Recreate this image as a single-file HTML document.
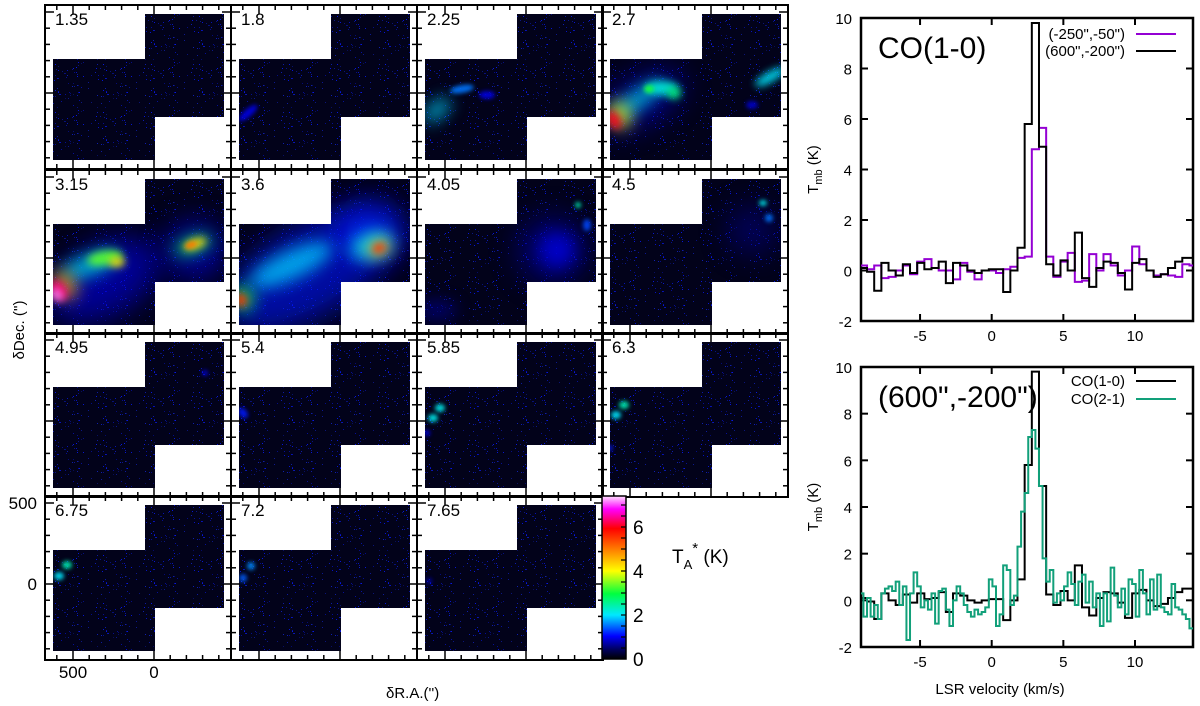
<!DOCTYPE html>
<html><head><meta charset="utf-8"><style>
html,body{margin:0;padding:0;background:#fff;}
svg{display:block;font-family:"Liberation Sans",Arial,sans-serif;}
</style></head><body>
<svg id="fig" width="1200" height="706" viewBox="0 0 1200 706" xmlns="http://www.w3.org/2000/svg">
<defs>
<clipPath id="mapclip" clipPathUnits="userSpaceOnUse">
<rect x="8" y="54" width="102" height="101"/><rect x="100" y="9" width="79" height="103"/>
</clipPath>
<clipPath id="clipTop"><rect x="861" y="18" width="332" height="303"/></clipPath>
<clipPath id="clipBot"><rect x="861" y="367" width="332" height="280"/></clipPath>
<filter id="blur2" x="-100%" y="-100%" width="300%" height="300%"><feGaussianBlur stdDeviation="2"/></filter>
<filter id="blur4" x="-100%" y="-100%" width="300%" height="300%"><feGaussianBlur stdDeviation="4"/></filter>
<filter id="blur8" x="-100%" y="-100%" width="300%" height="300%"><feGaussianBlur stdDeviation="8"/></filter>
<filter id="blur14" x="-100%" y="-100%" width="300%" height="300%"><feGaussianBlur stdDeviation="14"/></filter>
<linearGradient id="cbar" x1="0" y1="1" x2="0" y2="0">
<stop offset="0" stop-color="#000000"/><stop offset="0.06" stop-color="#000060"/>
<stop offset="0.14" stop-color="#0000ff"/><stop offset="0.27" stop-color="#00e8ff"/>
<stop offset="0.40" stop-color="#00ff40"/><stop offset="0.54" stop-color="#ffff00"/>
<stop offset="0.67" stop-color="#ff8000"/><stop offset="0.80" stop-color="#ff0000"/>
<stop offset="0.92" stop-color="#ff00ff"/><stop offset="1" stop-color="#ffe0ff"/>
</linearGradient>
<pattern id="noise" patternUnits="userSpaceOnUse" width="48" height="48"></pattern>
</defs>
<g id="maps"></g>
<g id="colorbar">
<rect x="602" y="496" width="24" height="163" fill="url(#cbar)" stroke="#000" stroke-width="1.5"/>
</g>
<g id="spec"></g>
</svg>
<script>
// ---------- Channel map data ----------
const channels = ["1.35","1.8","2.25","2.7","3.15","3.6","4.05","4.5","4.95","5.4","5.85","6.3","6.75","7.2","7.65"];
// emission features per channel: [x, y, rx, ry, rotationDeg, T_A* (K)] in panel-local pixels
const blobs = [
  [],
  [[17,108,12,4,-40,1.0]],
  [[20,105,16,8,-40,2.0],[45,84,12,4,-10,1.6],[70,90,8,4,0,1.0]],
  [[40,95,45,22,-30,0.9],[35,95,30,8,-35,2.2],[60,83,16,7,0,2.3],[72,88,7,6,0,2.8],[47,84,5,4,0,3.2],[18,110,10,14,-30,4.2],[12,115,6,10,-30,6.3],[168,72,17,5,-30,2.1],[150,100,6,4,0,0.9]],
  [[60,110,60,35,-30,1.0],[150,80,30,30,0,1.0],[45,95,30,10,-20,2.2],[60,88,18,7,-10,3.5],[72,92,8,5,0,4.4],[20,115,10,16,-35,4.8],[14,120,7,11,-35,6.6],[12,125,5,7,-35,7.5],[148,75,20,8,-20,3.0],[150,74,12,5,-20,4.5],[146,75,6,3,-20,5.3]],
  [[80,100,95,45,-30,1.2],[60,95,45,14,-25,2.0],[140,60,35,30,0,1.2],[140,75,22,14,-20,2.2],[148,78,13,8,-20,4.4],[148,78,7,5,-20,5.8],[12,128,11,13,-30,3.2],[10,130,6,7,-30,5.8]],
  [[135,80,35,35,0,0.7],[140,80,18,18,0,1.0],[20,140,20,10,0,0.6],[161,35,3,3,0,2.5],[170,55,4,6,0,1.4]],
  [[150,60,25,25,0,0.6],[161,33,4,3,0,2.2],[167,48,4,4,0,1.6]],
  [[160,40,3,3,0,1.0]],
  [[12,80,4,6,-40,1.2]],
  [[16,85,5,4,0,2.2],[23,75,5,4,0,2.2],[10,100,3,3,0,1.1]],
  [[22,72,5,4,0,2.5],[14,82,5,4,0,2.1],[8,115,3,3,0,1.2]],
  [[22,69,5,4,0,2.5],[14,80,5,4,0,2.1]],
  [[20,70,4,4,0,1.7],[12,82,4,4,0,1.5]],
  [[12,85,3,3,0,0.8]]
];
const raTicks = [-400,-300,-200,-100,0,100,200,300,400,500,600];
const decTicks = [-500,-400,-300,-200,-100,0,100,200,300,400,500];
const cbTicks = [0,2,4,6];

// ---------- Spectra data ----------
const binStart = -9.2;
const wide = 0.5, narrow = 0.25;
const co10_pos1 = [0.1,-0.05,-0.8,0.3,0.0,-0.2,0.25,-0.1,0.3,0.05,0.1,0.35,-0.5,0.3,0.2,0.0,-0.1,0.0,0.05,0.05,-0.85,0.0,0.9,5.8,9.8,4.9,0.25,-0.2,0.4,0.0,1.5,-0.3,-0.65,0.1,0.35,0.3,-0.1,-0.75,0.3,0.45,0.0,-0.25,-0.15,0.1,0.35,0.5,0.5];
const co10_pos2 = [0.2,0.05,0.2,-0.3,-0.25,0.0,0.2,-0.15,0.35,0.45,0.1,0.0,0.0,-0.35,0.3,-0.05,-0.35,0.0,0.0,-0.1,0.05,0.15,0.5,0.55,4.8,5.65,0.55,-0.25,0.35,0.7,-0.45,-0.4,0.65,0.0,0.65,0.2,-0.2,0.0,0.95,0.25,0.0,-0.2,-0.15,-0.2,-0.25,0.25,0.2];
const co21_pos1 = [0.3,-0.7,0.1,-0.7,-0.2,-0.8,0.3,0.5,0.6,0.4,0.8,-0.2,0.6,-1.7,0.3,1.2,0.6,-0.3,0.0,-0.4,0.3,-1.0,0.4,0.5,-0.4,-1.1,0.0,0.6,0.3,-0.2,-0.5,-0.7,-0.4,-0.6,-0.5,-0.3,0.9,0.6,-1.1,-0.6,1.5,1.3,-0.2,0.2,2.3,3.8,4.6,7.0,7.3,6.5,4.9,1.8,0.8,1.3,-0.1,0.3,0.0,0.6,1.2,0.7,-0.2,0.8,1.1,-0.1,0.8,-0.3,0.3,-1.1,0.3,-0.9,1.4,0.2,-0.3,0.5,-0.6,0.9,0.7,-0.7,1.3,0.3,-0.6,0.9,-0.4,1.1,-0.3,-0.5,-0.6,0.7,-0.3,-0.4,-0.6,-0.8,-1.2,-1.2];
const xTicks = [-5,0,5,10];
const yTicks = [-2,0,2,4,6,8,10];

const NS = "http://www.w3.org/2000/svg";
function mk(tag, attrs, parent){const e=document.createElementNS(NS,tag);for(const k in attrs)e.setAttribute(k,attrs[k]);parent.appendChild(e);return e;}

// colormap
const cmStops=[[0,[0,0,0]],[0.5,[0,0,100]],[1.1,[0,0,255]],[2.1,[0,232,255]],[3.1,[0,255,64]],[4.2,[255,255,0]],[5.2,[255,128,0]],[6.2,[255,0,0]],[7.1,[255,0,255]],[7.8,[255,224,255]]];
function cmap(t){
  if(t<=cmStops[0][0])return "rgb(0,0,0)";
  for(let i=1;i<cmStops.length;i++){if(t<=cmStops[i][0]){const a=cmStops[i-1],b=cmStops[i];const f=(t-a[0])/(b[0]-a[0]);const c=a[1].map((v,j)=>Math.round(v+(b[1][j]-v)*f));return `rgb(${c[0]},${c[1]},${c[2]})`;}}
  return "rgb(255,224,255)";
}

// noise pattern (texture only)
const pat=document.getElementById('noise');
mk('rect',{x:0,y:0,width:48,height:48,fill:'#02021a'},pat);
let seed=12345;function rnd(){seed=(seed*1103515245+12345)%2147483648;return seed/2147483648;}
for(let i=0;i<70;i++){mk('rect',{x:Math.floor(rnd()*48),y:Math.floor(rnd()*48),width:1,height:1,fill:rnd()<0.5?'#1020b0':'#0818e0',opacity:(0.4+rnd()*0.6).toFixed(2)},pat);}

// ---------- maps ----------
const maps=document.getElementById('maps');
const PW=186, PH=164, colX=[45,231,417,602], rowY=[5,170,333,496];
const raX = ra => 109 - ra*(81/500);   // panel-local
const decY = d => 88 - d*(81/500);
channels.forEach((ch,i)=>{
  const c=i%4, r=Math.floor(i/4);
  const g=mk('g',{transform:`translate(${colX[c]},${rowY[r]})`},maps);
  
  
  const inner=mk('g',{'clip-path':'url(#mapclip)'},g);
  mk('rect',{x:0,y:0,width:PW,height:PH,fill:'url(#noise)'},inner);
  const sorted=blobs[i].slice().sort((a,b)=>a[5]-b[5]);
  sorted.forEach(b=>{
    const m=Math.min(b[2],b[3]);
    const f = m>=20?'blur14':(m>=8?'blur8':(m>=5?'blur4':'blur2'));
    const op = m>=20?0.6:(m>=8?0.75:0.9);
    const e=mk('ellipse',{cx:b[0],cy:b[1],rx:b[2],ry:b[3],transform:`rotate(${b[4]} ${b[0]} ${b[1]})`,fill:cmap(b[5]),filter:`url(#${f})`,opacity:op},inner);
    
    
  });
  mk('rect',{x:0,y:0,width:PW,height:PH,fill:'none',stroke:'#000','stroke-width':2},g);
  raTicks.forEach(t=>{const x=raX(t);if(x<2||x>PW-2)return;const L=(t===0||t===500)?9:5;
    mk('line',{x1:x,y1:PH,x2:x,y2:PH-L,stroke:'#000','stroke-width':1.5},g);
    mk('line',{x1:x,y1:0,x2:x,y2:L,stroke:'#000','stroke-width':1.5},g);});
  decTicks.forEach(t=>{const y=decY(t);if(y<2||y>PH-2)return;const L=(t===0||t===500)?9:5;
    mk('line',{x1:0,y1:y,x2:L,y2:y,stroke:'#000','stroke-width':1.5},g);
    mk('line',{x1:PW,y1:y,x2:PW-L,y2:y,stroke:'#000','stroke-width':1.5},g);});
  const lab=mk('text',{x:10,y:20,'font-size':17,fill:'#000'},g);lab.textContent=ch;
  
  
});
// map axis labels
function txt(parent,x,y,s,attrs,name){const t=mk('text',Object.assign({x:x,y:y,fill:'#000'},attrs||{}),parent);t.textContent=s;return t;}
[[500],[0]].forEach(a=>{
  txt(maps,37,rowY[3]+decY(a[0])+6,String(a[0]),{'font-size':17,'text-anchor':'end'},'dec-tick-label');
  txt(maps,colX[0]+raX(a[0]),678,String(a[0]),{'font-size':17,'text-anchor':'middle'},'ra-tick-label');
});
txt(maps,386,698,"\u03B4R.A.('')",{'font-size':15},'x-axis-title');
txt(maps,0,0,"\u03B4Dec. ('')",{'font-size':15,'text-anchor':'middle',transform:'translate(24,330) rotate(-90)'},'y-axis-title');

// colorbar ticks
const cb=document.getElementById('colorbar');
const cbY=t=>659-t*22;
for(let t=0.5;t<7.4;t+=0.5){mk('line',{x1:626,y1:cbY(t),x2:621,y2:cbY(t),stroke:'#000','stroke-width':1.2},cb);}
cbTicks.forEach(t=>{txt(cb,633,cbY(t)+7,String(t),{'font-size':19},'colorbar-tick-label');});
const cbt=txt(cb,672,563,'',{'font-size':19},'colorbar-title');
cbt.innerHTML='T<tspan font-size="13" dy="6">A</tspan><tspan font-size="15" dy="-16">*</tspan><tspan dy="10"> (K)</tspan>';

// ---------- spectra ----------
const spec=document.getElementById('spec');
const sx=v=>991.7+v*14.33;
function makeAxes(top,bot,clip,name,label){
  const g=mk('g',{},spec);
  const sy=t=>bot-(t+2)*((bot-top)/12);
  mk('rect',{x:861,y:top,width:332,height:bot-top,fill:'none',stroke:'#000','stroke-width':2.5},g);
  xTicks.forEach(v=>{const x=sx(v);mk('line',{x1:x,y1:bot,x2:x,y2:bot-7,stroke:'#000','stroke-width':2},g);mk('line',{x1:x,y1:top,x2:x,y2:top+7,stroke:'#000','stroke-width':2},g);
    txt(g,x,bot+20,String(v),{'font-size':15,'text-anchor':'middle'},'x-tick-label');});
  yTicks.forEach(t=>{const y=sy(t);mk('line',{x1:861,y1:y,x2:868,y2:y,stroke:'#000','stroke-width':2},g);mk('line',{x1:1193,y1:y,x2:1186,y2:y,stroke:'#000','stroke-width':2},g);
    txt(g,852,y+6,String(t),{'font-size':15,'text-anchor':'end'},'y-tick-label');});
  const yl=txt(g,0,0,'',{'font-size':15,'text-anchor':'middle',transform:`translate(818,${(top+bot)/2}) rotate(-90)`},'y-axis-title');
  yl.innerHTML='T<tspan font-size="11" dy="4">mb</tspan><tspan dy="-4"> (K)</tspan>';
  txt(g,878,top+40,label,{'font-size':30},'panel-title');
  return {g,sy};
}
function stepLine(ax,vals,w,color,clip,name){
  let d='';
  vals.forEach((v,i)=>{const x0=sx(binStart+i*w),x1=sx(binStart+(i+1)*w),y=ax.sy(v);d+=(i===0?`M${x0},${y}`:`V${y}`)+`H${x1}`;});
  const p=mk('path',{d:d,fill:'none',stroke:color,'stroke-width':2,'clip-path':clip},ax.g);
  
  
}
function legend(ax,y,label,color,name){
  const l=mk('g',{},ax.g);
  txt(l,1125,y+5,label,{'font-size':15,'text-anchor':'end'},'legend-label');
  mk('line',{x1:1136,y1:y,x2:1176,y2:y,stroke:color,'stroke-width':2},l);
}
const PURPLE='#9400d3', GREEN='#12a07a';
const A1=makeAxes(18,321,'url(#clipTop)','spectrum-co10-panel','CO(1-0)');
stepLine(A1,co10_pos2,wide,PURPLE,'url(#clipTop)','co10-line-pos-250-50');
stepLine(A1,co10_pos1,wide,'#000','url(#clipTop)','co10-line-pos600-200');
legend(A1,34,'(-250",-50")',PURPLE,'legend-entry-pos-250-50');
legend(A1,51,'(600",-200")','#000','legend-entry-pos600-200');
const A2=makeAxes(367,647,'url(#clipBot)','spectrum-position-panel','(600",-200")');
stepLine(A2,co10_pos1,wide,'#000','url(#clipBot)','co10-line');
stepLine(A2,co21_pos1,narrow,GREEN,'url(#clipBot)','co21-line');
legend(A2,381,'CO(1-0)','#000','legend-entry-co10');
legend(A2,399,'CO(2-1)',GREEN,'legend-entry-co21');
txt(spec,1000,694,'LSR velocity (km/s)',{'font-size':15,'text-anchor':'middle'},'x-axis-title');
</script>
</body></html>
